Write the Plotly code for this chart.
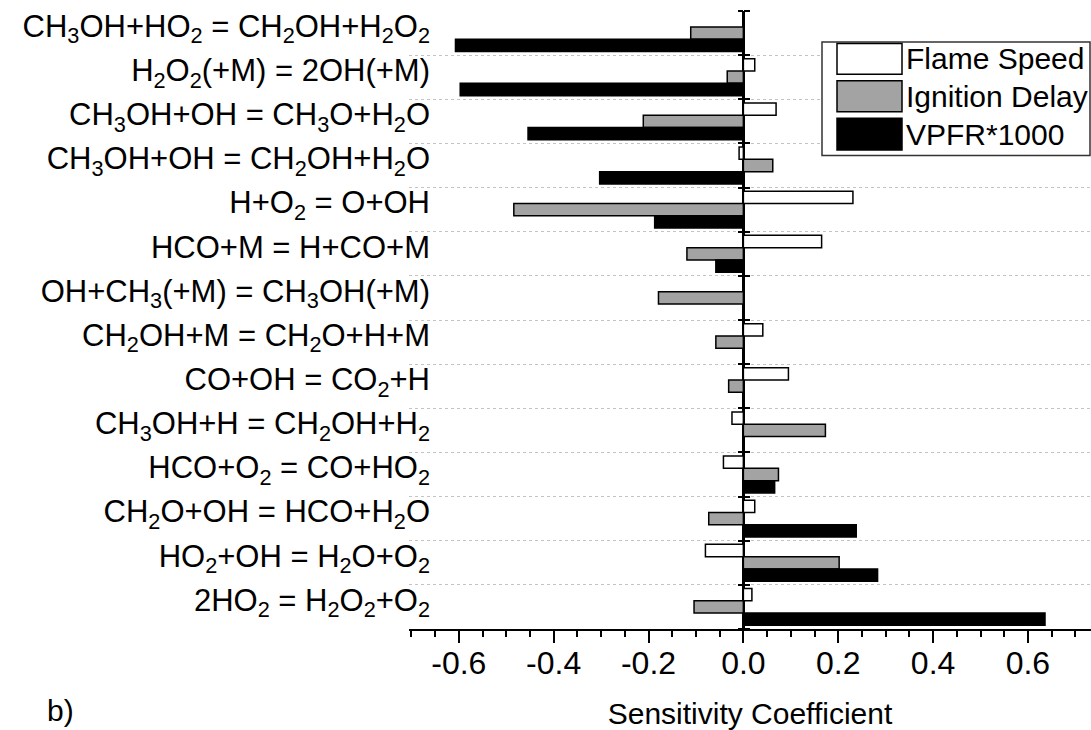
import plotly.graph_objects as go

reactions = [
    "CH<sub>3</sub>OH+HO<sub>2</sub> = CH<sub>2</sub>OH+H<sub>2</sub>O<sub>2</sub>",
    "H<sub>2</sub>O<sub>2</sub>(+M) = 2OH(+M)",
    "CH<sub>3</sub>OH+OH = CH<sub>3</sub>O+H<sub>2</sub>O",
    "CH<sub>3</sub>OH+OH = CH<sub>2</sub>OH+H<sub>2</sub>O",
    "H+O<sub>2</sub> = O+OH",
    "HCO+M = H+CO+M",
    "OH+CH<sub>3</sub>(+M) = CH<sub>3</sub>OH(+M)",
    "CH<sub>2</sub>OH+M = CH<sub>2</sub>O+H+M",
    "CO+OH = CO<sub>2</sub>+H",
    "CH<sub>3</sub>OH+H = CH<sub>2</sub>OH+H<sub>2</sub>",
    "HCO+O<sub>2</sub> = CO+HO<sub>2</sub>",
    "CH<sub>2</sub>O+OH = HCO+H<sub>2</sub>O",
    "HO<sub>2</sub>+OH = H<sub>2</sub>O+O<sub>2</sub>",
    "2HO<sub>2</sub> = H<sub>2</sub>O<sub>2</sub>+O<sub>2</sub>",
]

flame_speed = [None, 0.024, 0.069, -0.009, 0.231, 0.165, None, 0.041, 0.095, -0.024, -0.042, 0.024, -0.080, 0.018]
ignition_delay = [-0.111, -0.034, -0.211, 0.062, -0.484, -0.119, -0.179, -0.058, -0.031, 0.173, 0.074, -0.073, 0.202, -0.104]
vpfr = [-0.607, -0.597, -0.454, -0.303, -0.187, -0.058, None, None, None, None, 0.066, 0.238, 0.283, 0.636]

series_names = ["Flame Speed", "Ignition Delay", "VPFR*1000"]
series_values = [flame_speed, ignition_delay, vpfr]
series_colors = ["#ffffff", "#a3a3a3", "#000000"]

x_ticks = [-0.6, -0.4, -0.2, 0.0, 0.2, 0.4, 0.6]
x_tick_labels = ["-0.6", "-0.4", "-0.2", "0.0", "0.2", "0.4", "0.6"]
x_range = [-0.705, 0.733]

FONT = "Liberation Sans, Arial, sans-serif"

fig = go.Figure()
for name, vals, col in zip(series_names, series_values, series_colors):
    fig.add_trace(go.Bar(
        y=reactions, x=vals, name=name, orientation="h",
        marker=dict(color=col, line=dict(color="black", width=1.5)),
        showlegend=False,
    ))

# helper traces so the tick axes at x=0 are created
n = len(reactions)
fig.add_trace(go.Scatter(x=[], y=[], yaxis="y2", showlegend=False, hoverinfo="skip"))
fig.add_trace(go.Scatter(x=[], y=[], yaxis="y3", showlegend=False, hoverinfo="skip"))

zero_pos = (0 - x_range[0]) / (x_range[1] - x_range[0])
bounds = [i - 0.5 for i in range(n + 1)]

fig.update_layout(
    width=1091, height=730,
    margin=dict(l=409, r=0, t=11, b=99),
    paper_bgcolor="white", plot_bgcolor="white",
    barmode="group", bargap=0.165, bargroupgap=0,
    font=dict(family=FONT, size=30, color="black"),
    xaxis=dict(
        range=x_range, tickvals=x_ticks, ticktext=x_tick_labels,
        showline=True, linecolor="black", linewidth=2,
        ticks="outside", ticklen=12, tickwidth=2, tickcolor="black",
        minor=dict(dtick=0.05, tick0=0, ticks="outside", ticklen=6, tickwidth=1.5, tickcolor="black", showgrid=False),
        showgrid=False, zeroline=True, zerolinecolor="black", zerolinewidth=2.5,
        tickfont=dict(size=32), ticklabelstandoff=-7,
        title=dict(text="Sensitivity Coefficient", font=dict(size=30), standoff=28),
    ),
    yaxis=dict(
        type="category", autorange="reversed", tickson="boundaries",
        showgrid=True, gridcolor="#c4c4c4", gridwidth=1, griddash="3px,3px",
        ticks="", showline=False, zeroline=False,
        ticklabelstandoff=-22, ticklabelshift=7, tickfont=dict(size=31),
    ),
    yaxis2=dict(
        overlaying="y", anchor="free", position=zero_pos, side="left",
        range=[n - 0.5, -0.5], tickvals=bounds, showticklabels=False,
        ticks="outside", ticklen=5, tickwidth=2, tickcolor="black",
        showgrid=False, zeroline=False, showline=False,
    ),
    yaxis3=dict(
        overlaying="y", anchor="free", position=zero_pos, side="right",
        range=[n - 0.5, -0.5], tickvals=bounds, showticklabels=False,
        ticks="outside", ticklen=6, tickwidth=2, tickcolor="black",
        showgrid=False, zeroline=False, showline=False,
    ),
)

# custom legend (large swatches as in the reference)
W, H, L, B = 682.0, 620.0, 409.0, 631.0
def px_x(v):
    return (v - L) / W
def px_y(v):
    return (B - v) / H

shapes = [dict(type="rect", xref="paper", yref="paper",
               x0=px_x(822), x1=px_x(1090), y0=px_y(156), y1=px_y(42),
               fillcolor="white", line=dict(color="#333333", width=1.5), layer="above")]
rows = [(43.5, 74.5), (81, 112), (118.5, 150.5)]
annotations = []
for (t, b), name, col in zip(rows, series_names, series_colors):
    shapes.append(dict(type="rect", xref="paper", yref="paper",
                       x0=px_x(837), x1=px_x(902), y0=px_y(b), y1=px_y(t),
                       fillcolor=col, line=dict(color="black", width=1.5), layer="above"))
    annotations.append(dict(text=name, xref="paper", yref="paper",
                            x=px_x(904), y=px_y((t + b) / 2), xanchor="left", yanchor="middle",
                            showarrow=False, font=dict(size=30)))

annotations.append(dict(text="b)", xref="paper", yref="paper", x=px_x(45), y=px_y(713),
                        xanchor="left", yanchor="middle", showarrow=False, font=dict(size=30)))

fig.update_layout(shapes=shapes, annotations=annotations)

fig.write_html("out.html")
